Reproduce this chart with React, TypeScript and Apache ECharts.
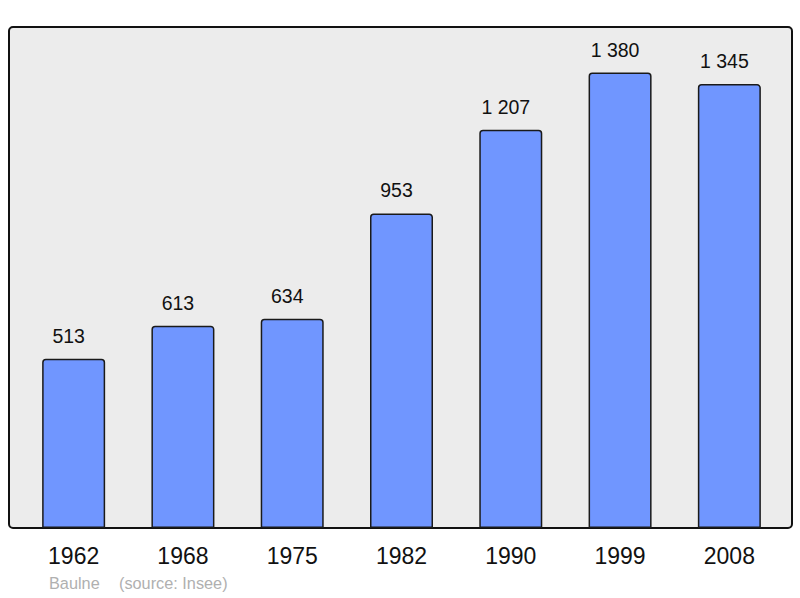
import React, { useEffect, useRef } from "react";
import * as echarts from "echarts";

const years = ["1962", "1968", "1975", "1982", "1990", "1999", "2008"];
const population = [513, 613, 634, 953, 1207, 1380, 1345];
const footerName = "Baulne";
const footerSource = "(source: Insee)";

const fmt = (v: number) => String(v).replace(/\B(?=(\d{3})+(?!\d))/g, " ");

export default function App() {
  const ref = useRef<HTMLDivElement>(null);
  useEffect(() => {
    if (!ref.current) return;
    const chart = echarts.init(ref.current, null, { renderer: "svg" });
    const font = "'Liberation Sans', Arial, sans-serif";
    chart.setOption({
      animation: false,
      backgroundColor: "#ffffff",
      grid: { left: 19, right: 16, top: 27, bottom: 70 },
      xAxis: {
        type: "category",
        data: years,
        axisLine: { show: false },
        axisTick: { show: false },
        axisLabel: { color: "#111", fontSize: 23, fontFamily: font, margin: 16 },
      },
      yAxis: {
        type: "value",
        min: 0,
        max: 1518,
        show: false,
        splitLine: { show: false },
      },
      graphic: [
        {
          type: "rect",
          z: 0,
          shape: { x: 9, y: 27, width: 783, height: 501, r: 4 },
          style: { fill: "#ececec", stroke: "#111", lineWidth: 2 },
        },
        {
          type: "text",
          z: 5,
          x: 49,
          y: 575,
          style: { text: footerName, fill: "#b0b0b0", fontSize: 16.3, fontFamily: font },
        },
        {
          type: "text",
          z: 5,
          x: 119,
          y: 575,
          style: { text: footerSource, fill: "#b0b0b0", fontSize: 16.3, fontFamily: font },
        },
      ],
      series: [
        {
          type: "bar",
          data: population,
          barWidth: 63,
          z: 3,
          itemStyle: {
            color: "#7096ff",
            borderColor: "#1a1a1a",
            borderWidth: 1.5,
            borderRadius: [3, 3, 0, 0],
          },
          label: {
            show: true,
            position: "top",
            distance: 13,
            offset: [-5, 0],
            color: "#111",
            fontSize: 19.5,
            fontFamily: font,
            formatter: (p: any) => fmt(p.value),
          },
        },
      ],
    });
    return () => chart.dispose();
  }, []);
  return (
    <div
      ref={ref}
      style={{ position: "absolute", left: 0, top: 0, width: 800, height: 598 }}
    />
  );
}
